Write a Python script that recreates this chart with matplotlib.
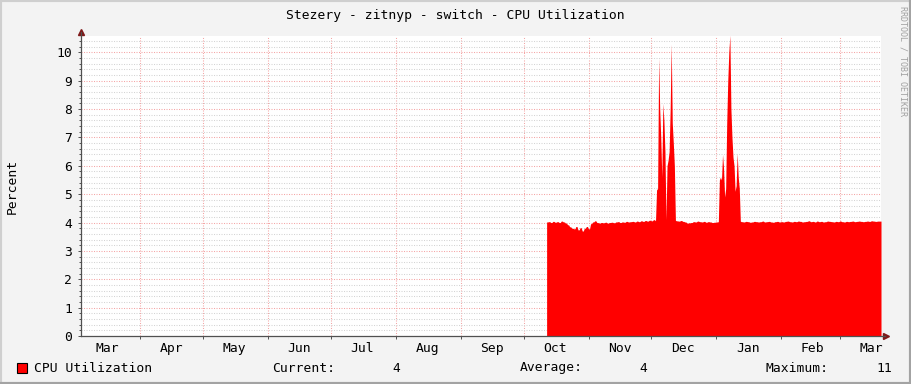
import matplotlib

matplotlib.use("Agg")

import matplotlib.dates as mdates
import matplotlib.pyplot as plt
import numpy as np
import pandas as pd
from matplotlib.lines import Line2D
from matplotlib.patches import Rectangle

TITLE = "Stezery - zitnyp - switch - CPU Utilization"
Y_LABEL = "Percent"
SERIES_NAME = "CPU Utilization"
WATERMARK = "RRDTOOL / TOBI OETIKER"
STAT_LABELS = ["Current:", "Average:", "Maximum:"]
STAT_VALUES = ["4", "4", "11"]

VIEW_START = "2010-03-03 16:00"
VIEW_END = "2011-03-20 16:00"
Y_TOP = 10.575
Y_TICKS = list(range(0, 11))

# daily averages, starting when collection began
BASE_START = "2010-10-12"
base_cpu = [
    4.02, 4.03, 4.00, 4.04, 4.01, 4.03, 4.00, 4.05, 4.02, 3.98,
    3.92, 3.85, 3.80, 3.78, 3.86, 3.74, 3.82, 3.70, 3.80, 3.86, 3.78,
    3.96, 4.02, 4.06, 4.00, 3.98, 4.00, 3.99, 4.01, 3.98, 4.00,
    4.01, 3.99, 4.02, 4.03, 4.00, 4.02, 4.01, 4.04, 4.02, 4.03,
    4.04, 4.02, 4.05, 4.03, 4.06, 4.04, 4.07, 4.05, 4.08, 4.06, 4.10,
    4.06, 4.05, 4.05, 4.06, 4.05, 4.06, 4.05, 4.06, 4.07,
    4.08, 4.06, 4.05, 4.07, 4.04, 4.02, 3.98, 3.99, 4.00, 4.03,
    4.02, 4.05, 4.03, 4.02, 4.04, 4.01, 4.03, 4.02, 4.00, 4.01, 4.02,
    4.03, 4.03, 4.02, 4.03, 4.04, 4.03, 4.02, 4.03, 4.04, 4.04,
    4.05, 4.03, 4.02, 4.04, 4.03, 4.01, 4.02, 4.04, 4.03, 4.02,
    4.03, 4.05, 4.02, 4.03, 4.04, 4.02, 4.01, 4.03, 4.04, 4.02,
    4.03, 4.02, 4.04, 4.05, 4.03, 4.02, 4.04, 4.03, 4.05, 4.04,
    4.02, 4.03, 4.04, 4.06, 4.03, 4.04, 4.02, 4.05, 4.03, 4.04,
    4.02, 4.03, 4.05, 4.04, 4.03, 4.02, 4.04, 4.03, 4.05, 4.03,
    4.02, 4.04, 4.03, 4.04, 4.05, 4.03, 4.04, 4.05, 4.04, 4.03,
    4.04, 4.05, 4.04, 4.06, 4.05, 4.04, 4.05, 4.05,
]

# 12 hour averages during the two load bursts
DEC_BURST_START = "2010-12-03 12:00"
dec_burst = [5.15, 5.2, 9.8, 8.0, 7.0, 5.6, 8.2, 7.6, 6.5, 4.1,
             6.0, 6.2, 6.5, 8.0, 10.3, 7.5, 6.8, 6.0]
JAN_BURST_START = "2011-01-02 12:00"
jan_burst = [5.5, 5.6, 5.5, 6.4, 5.9, 4.9, 5.2, 7.5, 9.0, 10.0,
             10.6, 8.0, 7.0, 6.3, 6.0, 5.1, 5.3, 6.45, 5.6, 5.2]

BG = "#f3f3f3"
AREA = "#ff0000"
MAJOR_GRID = "#f4a6a6"
MINOR_GRID = "#d4d4d4"
AXIS = "#505050"
ARROW = "#7f1a1a"
FONT = "DejaVu Sans Mono"
FS = 9.4

plt.rcParams["font.family"] = [FONT, "DejaVu Sans"]


def build_series() -> pd.Series:
    daily = pd.Series(base_cpu, index=pd.date_range(BASE_START, periods=len(base_cpu), freq="D"))
    end = daily.index[-1] + pd.Timedelta(hours=12)
    series = daily.reindex(pd.date_range(BASE_START, end, freq="12h")).ffill()
    for start, values in ((DEC_BURST_START, dec_burst), (JAN_BURST_START, jan_burst)):
        idx = pd.date_range(start, periods=len(values), freq="12h")
        series.loc[idx] = values
    # hold the last value up to the right edge
    series.loc[pd.Timestamp(VIEW_END)] = series.iloc[-1]
    return series.sort_index()


series = build_series()

fig = plt.figure(figsize=(9.11, 3.84), dpi=100, facecolor=BG)
W, H = 911, 384
ax = fig.add_axes([81 / W, (H - 336) / H, 800 / W, 300 / H])
ax.set_facecolor("white")
ax.set_axisbelow(True)

ax.fill_between(series.index, 0, series.values, color=AREA, linewidth=0, zorder=2)

ax.set_xlim(pd.Timestamp(VIEW_START), pd.Timestamp(VIEW_END))
ax.set_ylim(0, Y_TOP)

ax.set_yticks(Y_TICKS)
ax.set_yticks(np.arange(0, Y_TOP, 0.2), minor=True)
ax.xaxis.set_major_locator(mdates.MonthLocator())
ax.xaxis.set_major_formatter(plt.NullFormatter())
ax.xaxis.set_minor_locator(mdates.MonthLocator(bymonthday=16))
ax.xaxis.set_minor_formatter(mdates.DateFormatter("%b"))

dots = (0, (1, 1.4))
ax.grid(which="major", axis="both", color=MAJOR_GRID, linestyle=dots, linewidth=0.75)
ax.grid(which="minor", axis="y", color=MINOR_GRID, linestyle=dots, linewidth=0.75)

ax.tick_params(axis="y", which="major", length=2, width=0.7, color=AXIS, pad=4.5,
               labelsize=FS, labelcolor="black")
ax.tick_params(axis="y", which="minor", length=1.5, width=0.7, color=AXIS)
ax.tick_params(axis="x", which="major", length=2, width=0.7, color=AXIS)
ax.tick_params(axis="x", which="minor", length=0, pad=4, labelsize=FS, labelcolor="black")
for label in ax.get_yticklabels() + ax.get_xticklabels(minor=True):
    label.set_family(FONT)

for side in ("top", "right", "left", "bottom"):
    ax.spines[side].set_visible(False)

# axis lines with arrow heads, as rrdtool draws them
ax.add_line(Line2D([0, 0], [0, 1.013], transform=ax.transAxes, color=AXIS, lw=0.9,
                   clip_on=False, zorder=3))
ax.add_line(Line2D([0, 1.005], [0, 0], transform=ax.transAxes, color=AXIS, lw=0.9,
                   clip_on=False, zorder=3))
ax.plot([0], [1.015], marker="^", ms=4.5, color=ARROW, transform=ax.transAxes, clip_on=False)
ax.plot([1.006], [0], marker=">", ms=4.5, color=ARROW, transform=ax.transAxes, clip_on=False)

fig.text(455 / W, 1 - 15 / H, TITLE, ha="center", va="center", fontsize=FS, family=FONT)
fig.text(12 / W, 1 - 186 / H, Y_LABEL, ha="center", va="center", rotation=90,
         fontsize=FS, family=FONT)
fig.text(903 / W, 1 - 6 / H, WATERMARK, ha="center", va="top", rotation=270,
         fontsize=6, family=FONT, color="#a0a0a0")

# legend row
legend_y = 1 - 368 / H
fig.add_artist(Rectangle((17 / W, 1 - 373 / H), 10 / W, 10 / H, transform=fig.transFigure,
                         facecolor=AREA, edgecolor="black", linewidth=0.8))
fig.text(34 / W, legend_y, SERIES_NAME, ha="left", va="center", fontsize=FS, family=FONT)
for label, value, lx, vx in zip(STAT_LABELS, STAT_VALUES, (272, 520, 765), (400, 647, 892)):
    fig.text(lx / W, legend_y, label, ha="left", va="center", fontsize=FS, family=FONT)
    fig.text(vx / W, legend_y, value, ha="right", va="center", fontsize=FS, family=FONT)

# 3d frame around the canvas
light, dark = "#cfcfcf", "#a3a3a3"
for xs, ys, colour in (
    ([0, 1], [1, 1], light),
    ([0, 0], [0, 1], light),
    ([0, 1], [0, 0], dark),
    ([1, 1], [0, 1], dark),
):
    fig.add_artist(Line2D(xs, ys, transform=fig.transFigure, color=colour, lw=3))

fig.savefig("out.png", dpi=100, facecolor=BG)
